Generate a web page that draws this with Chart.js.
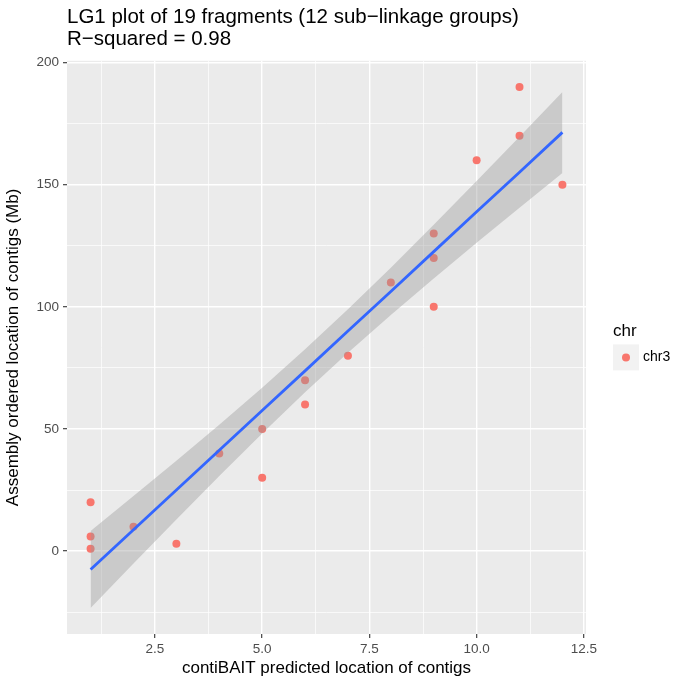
<!DOCTYPE html>
<html>
<head>
<meta charset="utf-8">
<script src="https://cdn.jsdelivr.net/npm/chart.js@4/dist/chart.umd.min.js"></script>
<style>
  html, body { margin: 0; padding: 0; background: #fff; }
  canvas { display: block; }
</style>
</head>
<body>
<canvas id="lg1-chart" width="674" height="679"></canvas>
<script>
  // fragments: contiBAIT predicted position vs assembly position (Mb)
  const predicted = [1, 1, 1, 2, 3, 4, 5, 5, 6, 6, 7, 8, 9, 9, 9, 10, 11, 11, 12];
  const assembly = [20, 6, 1, 10, 3, 40, 50, 30, 70, 60, 80, 110, 130, 120, 100, 160, 190, 170, 150];

  // lm smoother and its 95% band, read at each predicted position
  const smoothX = [1, 2, 3, 4, 5, 6, 7, 8, 9, 10, 11, 12];
  const smoothFit = [-7.5, 8.8, 25.0, 41.3, 57.6, 73.8, 90.1, 106.3, 122.6, 138.9, 155.1, 171.4];
  const smoothUpper = [8.3, 22.6, 37.0, 51.7, 66.9, 82.6, 99.0, 116.0, 133.6, 151.5, 169.6, 187.9];
  const smoothLower = [-23.3, -5.0, 13.0, 30.8, 48.2, 65.0, 81.2, 96.7, 111.6, 126.2, 140.6, 154.8];

  // axes
  const xMajor = [2.5, 5, 7.5, 10, 12.5];
  const xMajorLabels = ['2.5', '5.0', '7.5', '10.0', '12.5'];
  const xMinor = [1.25, 3.75, 6.25, 8.75, 11.25];
  const yMajor = [0, 50, 100, 150, 200];
  const yMajorLabels = ['0', '50', '100', '150', '200'];
  const yMinor = [-25, 25, 75, 125, 175];

  const seriesName = 'chr3';
  const legendTitle = 'chr';

  const pointColor = '#F8766D';
  const fontFamily = "'Liberation Sans', Arial, Helvetica, sans-serif";
  Chart.defaults.font.family = fontFamily;

  function pts(xs, ys) {
    return xs.map(function (x, i) { return { x: x, y: ys[i] }; });
  }
  function isIn(v, list) {
    return list.some(function (m) { return Math.abs(m - v) < 1e-9; });
  }
  function tickList(major, minor) {
    return major.concat(minor).sort(function (a, b) { return a - b; })
      .map(function (v) { return { value: v }; });
  }

  function gridFor(major) {
    return {
      color: '#FFFFFF',
      lineWidth: function (c) { return c.tick && isIn(c.tick.value, major) ? 1.4 : 0.7; },
      drawTicks: true,
      tickLength: 4,
      tickColor: '#333333',
      tickWidth: function (c) { return c.tick && isIn(c.tick.value, major) ? 1.1 : 0; }
    };
  }

  // grey panel like ggplot
  const panelBg = {
    id: 'panelBg',
    beforeDraw: function (chart) {
      const c = chart.ctx, a = chart.chartArea;
      c.save();
      c.fillStyle = '#FFFFFF';
      c.fillRect(0, 0, chart.width, chart.height);
      c.fillStyle = '#EBEBEB';
      c.fillRect(a.left, a.top, a.right - a.left, a.bottom - a.top);
      c.restore();
    }
  };

  // ggplot style legend on the right
  const sideLegend = {
    id: 'sideLegend',
    afterDraw: function (chart) {
      const c = chart.ctx, a = chart.chartArea;
      const x0 = a.right + 27;
      const yMid = (a.top + a.bottom) / 2;
      c.save();
      c.fillStyle = '#000';
      c.font = '17px ' + fontFamily;
      c.textBaseline = 'alphabetic';
      c.textAlign = 'left';
      c.fillText(legendTitle, x0, yMid - 11);
      c.fillStyle = '#F2F2F2';
      c.fillRect(x0, yMid - 3, 26, 26);
      c.fillStyle = pointColor;
      c.beginPath();
      c.arc(x0 + 13, yMid + 10, 4, 0, Math.PI * 2);
      c.fill();
      c.fillStyle = '#000';
      c.font = '14px ' + fontFamily;
      c.textBaseline = 'middle';
      c.fillText(seriesName, x0 + 30, yMid + 10);
      c.restore();
    }
  };

  new Chart(document.getElementById('lg1-chart'), {
    type: 'scatter',
    data: {
      datasets: [{
        label: seriesName,
        data: pts(predicted, assembly),
        backgroundColor: pointColor,
        borderColor: pointColor,
        pointRadius: 4,
        borderWidth: 0,
        order: 3
      }, {
        type: 'line',
        label: 'upper',
        data: pts(smoothX, smoothUpper),
        showLine: true,
        borderWidth: 0,
        borderColor: 'rgba(0,0,0,0)',
        pointRadius: 0,
        fill: '+1',
        backgroundColor: 'rgba(153,153,153,0.4)',
        order: 2
      }, {
        type: 'line',
        label: 'lower',
        data: pts(smoothX, smoothLower),
        showLine: true,
        borderWidth: 0,
        borderColor: 'rgba(0,0,0,0)',
        pointRadius: 0,
        fill: false,
        order: 2
      }, {
        type: 'line',
        label: 'fit',
        data: pts(smoothX, smoothFit),
        showLine: true,
        borderColor: '#3366FF',
        borderWidth: 2.8,
        pointRadius: 0,
        fill: false,
        order: 1
      }]
    },
    options: {
      responsive: false,
      animation: false,
      layout: { padding: { left: 0, right: 88, top: 0, bottom: 0 } },
      scales: {
        x: {
          type: 'linear',
          min: 0.45,
          max: 12.55,
          afterBuildTicks: function (s) { s.ticks = tickList(xMajor, xMinor); },
          afterFit: function (s) { s.height = 45; },
          border: { display: false },
          grid: gridFor(xMajor),
          ticks: {
            color: '#4D4D4D',
            font: { size: 13.5 },
            padding: 3,
            maxRotation: 0,
            autoSkip: false,
            callback: function (v) {
              const i = xMajor.findIndex(function (m) { return Math.abs(m - v) < 1e-9; });
              return i >= 0 ? xMajorLabels[i] : '';
            }
          },
          title: {
            display: true,
            text: 'contiBAIT predicted location of contigs',
            color: '#000',
            font: { size: 17 },
            padding: { top: 0, bottom: 0 }
          }
        },
        y: {
          type: 'linear',
          min: -33.9,
          max: 200.7,
          afterBuildTicks: function (s) { s.ticks = tickList(yMajor, yMinor); },
          afterFit: function (s) { s.width = 67; },
          border: { display: false },
          grid: gridFor(yMajor),
          ticks: {
            color: '#4D4D4D',
            font: { size: 13.5 },
            padding: 4,
            autoSkip: false,
            callback: function (v) {
              const i = yMajor.findIndex(function (m) { return Math.abs(m - v) < 1e-9; });
              return i >= 0 ? yMajorLabels[i] : '';
            }
          },
          title: {
            display: true,
            text: 'Assembly ordered location of contigs (Mb)',
            color: '#000',
            font: { size: 17 },
            padding: { top: 3.5, bottom: 0 }
          }
        }
      },
      plugins: {
        legend: { display: false },
        tooltip: { enabled: false },
        title: {
          display: true,
          text: ['LG1 plot of 19 fragments (12 sub\u2212linkage groups)', 'R\u2212squared = 0.98'],
          align: 'start',
          fullSize: false,
          color: '#000',
          font: { size: 20.5, weight: 'normal', lineHeight: 1.044 },
          padding: { top: 7, bottom: 11 }
        }
      }
    },
    plugins: [panelBg, sideLegend]
  });
</script>
</body>
</html>
